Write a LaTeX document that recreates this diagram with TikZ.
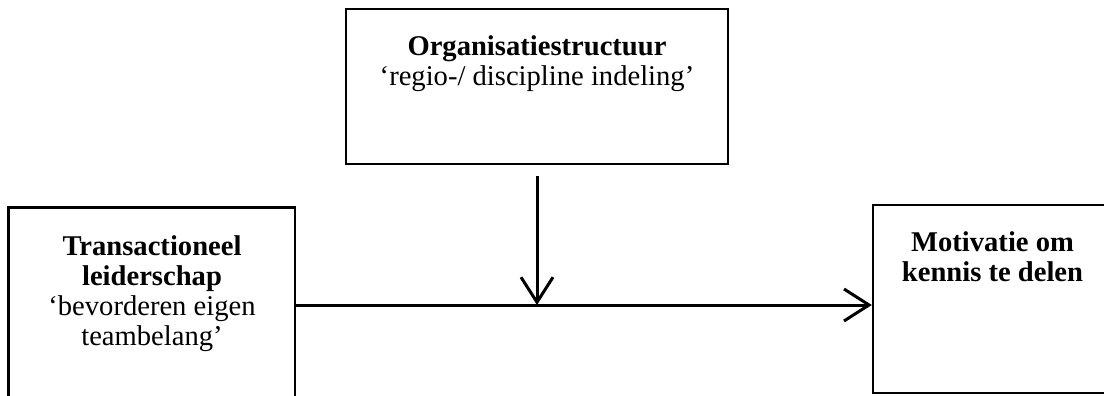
\documentclass[tikz,border=0pt]{standalone}
\usepackage{fontspec}
\setmainfont{Liberation Serif}
\usetikzlibrary{arrows.meta}
\tikzset{
  frame/.style={draw=black, line width=2.4pt, inner sep=0pt},
  label/.style={align=center, inner sep=0pt, anchor=base,
    font=\fontsize{28.6}{30}\selectfont},
  link/.style={line width=3pt, -{Straight Barb[length=25pt, width=32pt, line width=3pt]}}
}
\begin{document}
\begin{tikzpicture}[x=1pt, y=-1pt]
  \useasboundingbox (0,0) rectangle (1104,396);
  \clip (0,0) rectangle (1104,396);

  % boxes
  \node[frame, minimum width=382pt, minimum height=155pt] (org) at (537,86.5) {};
  \node[frame, minimum width=286.5pt, minimum height=222.5pt] (lead) at (151.75,318.75) {};
  \node[frame, minimum width=239pt, minimum height=188pt] (goal) at (992.5,299) {};

  % texts (anchored at the baseline of their last line)
  \node[label] (orgtxt) at (537,85) {\textbf{Organisatiestructuur}\\‘regio-/ discipline indeling’};
  \node[label] (leadtxt) at (152,345) {\textbf{Transactioneel}\\\textbf{leiderschap}\\‘bevorderen eigen\\teambelang’};
  \node[label] (goaltxt) at (992.5,281) {\textbf{Motivatie om}\\\textbf{kennis te delen}};

  % connectors
  \coordinate (junction) at (537,305);
  \draw[link] ([yshift=-11pt]org.south) -- (junction);
  \draw[link] (lead.east |- junction) -- (goal.west |- junction);
\end{tikzpicture}
\end{document}
